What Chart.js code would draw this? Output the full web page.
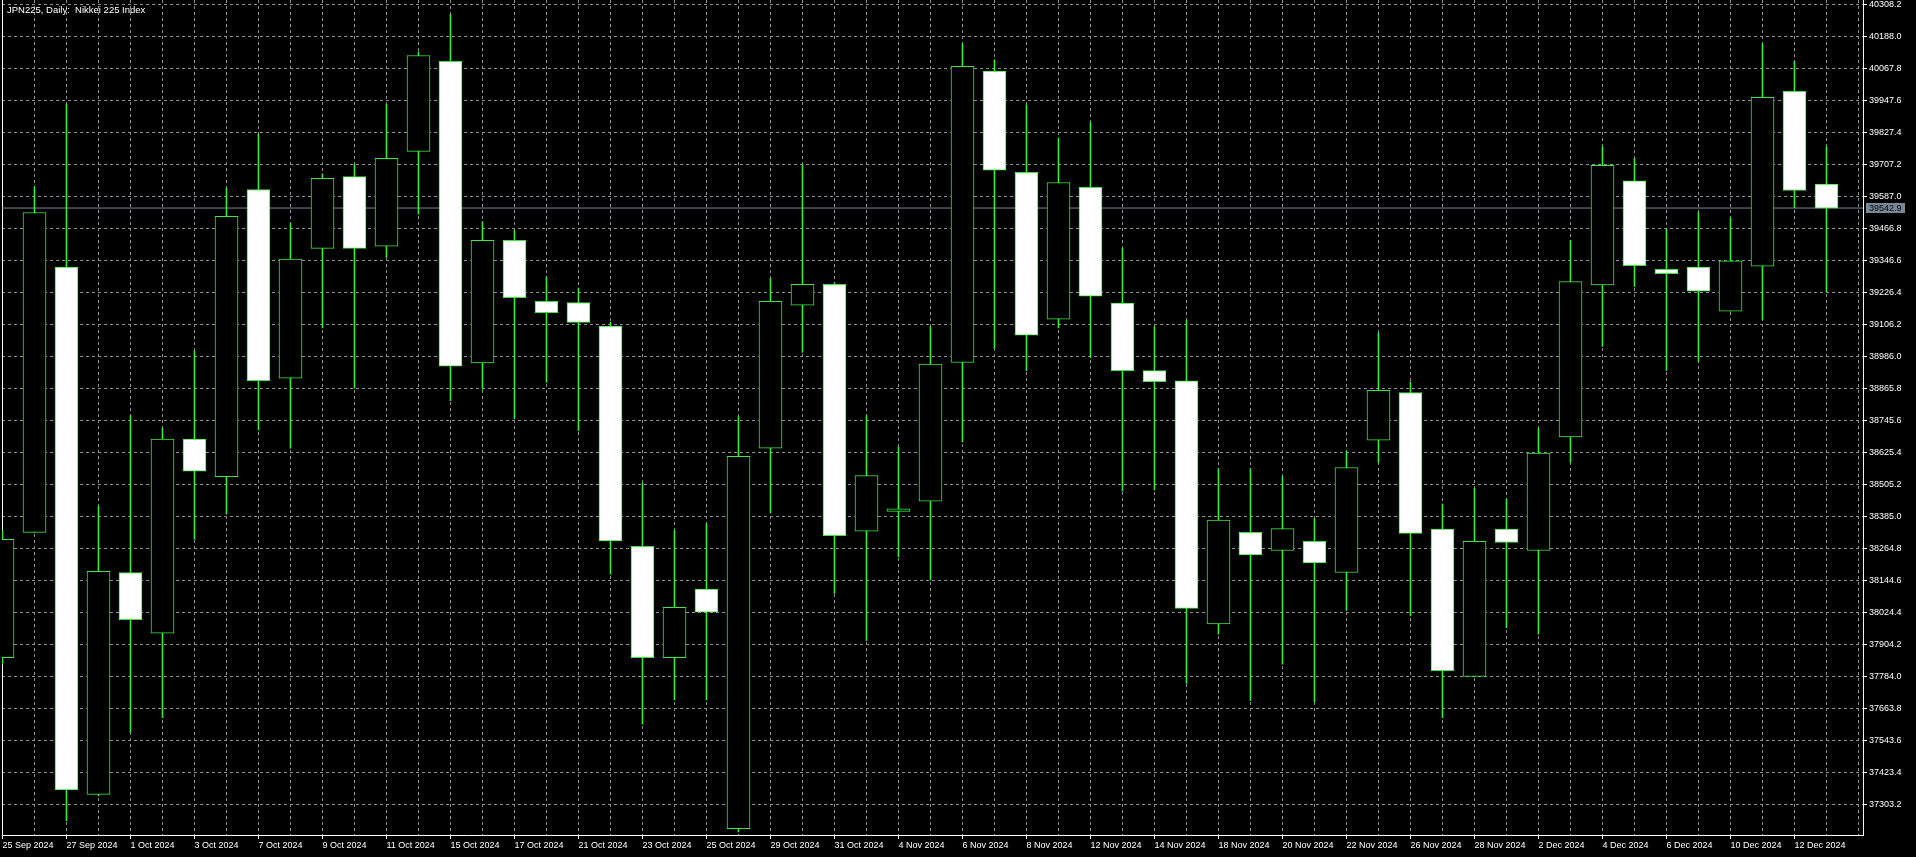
<!DOCTYPE html>
<html lang="en">
<head>
<meta charset="UTF-8">
<title>JPN225, Daily: Nikkei 225 Index</title>
<script src="https://cdn.jsdelivr.net/npm/chart.js"></script>
<style>
  html, body { margin: 0; padding: 0; background: #000; overflow: hidden; }
  #wrap { width: 1916px; height: 857px; }
  canvas { display: block; background: #000; }
</style>
</head>
<body>
<div id="wrap"><canvas id="chart" width="1916" height="857"></canvas></div>
<script>
const symbolTitle = 'JPN225, Daily:  Nikkei 225 Index';

// one entry per daily bar
const days = [
  '25 Sep 2024', '26 Sep 2024', '27 Sep 2024', '30 Sep 2024',
  '1 Oct 2024', '2 Oct 2024', '3 Oct 2024', '4 Oct 2024', '7 Oct 2024', '8 Oct 2024',
  '9 Oct 2024', '10 Oct 2024', '11 Oct 2024', '14 Oct 2024', '15 Oct 2024', '16 Oct 2024',
  '17 Oct 2024', '18 Oct 2024', '21 Oct 2024', '22 Oct 2024', '23 Oct 2024', '24 Oct 2024',
  '25 Oct 2024', '28 Oct 2024', '29 Oct 2024', '30 Oct 2024', '31 Oct 2024',
  '1 Nov 2024', '4 Nov 2024', '5 Nov 2024', '6 Nov 2024', '7 Nov 2024', '8 Nov 2024',
  '11 Nov 2024', '12 Nov 2024', '13 Nov 2024', '14 Nov 2024', '15 Nov 2024', '18 Nov 2024',
  '19 Nov 2024', '20 Nov 2024', '21 Nov 2024', '22 Nov 2024', '25 Nov 2024', '26 Nov 2024',
  '27 Nov 2024', '28 Nov 2024', '29 Nov 2024',
  '2 Dec 2024', '3 Dec 2024', '4 Dec 2024', '5 Dec 2024', '6 Dec 2024', '9 Dec 2024',
  '10 Dec 2024', '11 Dec 2024', '12 Dec 2024', '13 Dec 2024'
];

const open = [
  37853.9, 38324.8, 39320.9, 37340.7, 38173.8, 37946.4, 38674.9, 38534.1, 39612.7, 38904.3,
  39391.3, 39661.0, 39399.4, 39755.6, 40093.7, 38960.7, 39421.5, 39192.1, 39188.1, 39099.5,
  38272.5, 37853.9, 38111.5, 37211.9, 38640.7, 39178.0, 39256.5, 38328.8, 38403.3, 38441.5,
  38962.7, 40057.5, 39677.1, 39125.7, 39620.8, 39186.1, 38932.5, 38894.3, 37980.7, 38324.8,
  38256.4, 38290.6, 38173.8, 38670.9, 38850.0, 38336.8, 37783.4, 38336.8, 38256.4, 38683.0,
  39254.5, 39644.9, 39312.9, 39320.9, 39155.9, 39324.9, 39981.0, 39632.8
];
const high = [
  38330.0, 39622.8, 39932.7, 38423.4, 38763.5, 38715.2, 39007.0, 39616.7, 39822.0, 39485.9,
  39671.1, 39707.3, 39932.7, 40129.9, 40270.8, 39492.0, 39459.8, 39284.7, 39242.4, 39113.6,
  38509.9, 38332.8, 38357.0, 38759.5, 39278.7, 39707.3, 39262.6, 38763.5, 38644.7, 39097.5,
  40160.1, 40099.7, 39930.7, 39805.9, 39864.3, 39391.3, 39097.5, 39121.7, 38564.2, 38564.2,
  38534.1, 38377.1, 38630.7, 39073.4, 38890.3, 38431.4, 38489.8, 38449.5, 38715.2, 39421.5,
  39773.7, 39729.4, 39465.8, 39526.2, 39506.1, 40160.1, 40093.7, 39773.7
];
const low = [
  37830.0, 38324.8, 37242.1, 37335.0, 37574.2, 37628.5, 38298.6, 38393.2, 38709.1, 38640.7,
  39093.5, 38866.1, 39357.1, 39520.1, 38819.8, 38862.1, 38751.4, 38888.2, 38707.1, 38167.8,
  37604.3, 37694.9, 37694.9, 37199.8, 38397.2, 39000.9, 38095.4, 37918.3, 38232.2, 38145.7,
  38664.9, 39017.0, 38932.5, 39093.5, 38980.8, 38479.7, 38483.8, 37757.3, 37942.4, 37692.9,
  37829.7, 37688.9, 38031.0, 38588.4, 38010.8, 37628.5, 37783.4, 37966.6, 37942.4, 38588.4,
  39023.1, 39248.5, 38932.5, 38966.7, 39155.9, 39123.7, 39544.3, 39228.3
];
const close = [
  38298.6, 39526.2, 37356.8, 38177.9, 37996.8, 38674.9, 38554.2, 39512.1, 38894.3, 39351.1,
  39655.0, 39391.3, 39729.4, 40115.8, 38948.6, 39421.5, 39206.2, 39149.9, 39113.6, 38292.6,
  37853.9, 38043.0, 38024.9, 38610.5, 39192.1, 39256.5, 38312.7, 38538.1, 38413.3, 38956.7,
  40075.6, 39685.1, 39065.3, 39638.9, 39212.2, 38932.5, 38890.3, 38039.0, 38371.1, 38240.3,
  38338.9, 38210.1, 38568.3, 38858.1, 38320.7, 37805.6, 38290.6, 38286.5, 38622.6, 39266.6,
  39703.3, 39326.9, 39296.8, 39230.4, 39345.1, 39958.8, 39608.7, 39542.9
];

// price scale labels on the right
const yTicks = [
  40308.2, 40188.0, 40067.8, 39947.6, 39827.4, 39707.2, 39587.0, 39466.8, 39346.6,
  39226.4, 39106.2, 38986.0, 38865.8, 38745.6, 38625.4, 38505.2, 38385.0, 38264.8,
  38144.6, 38024.4, 37904.2, 37784.0, 37663.8, 37543.6, 37423.4, 37303.2
];

// visible window
const X_MIN = -0.015625;
const X_MAX = 58.140625;
const Y_MIN = 37187.9;
const Y_MAX = 40324.4;

const GREEN = '#3ee63e';
const GRID = '#8e8e96';
const BID = '#778899';

const last = close[close.length - 1];
const wicks = days.map((d, i) => ({ x: i, y: [low[i], high[i]] }));
const bodies = days.map((d, i) => ({ x: i, y: [open[i], close[i]] }));

// caption top-left and the bid price box on the axis
const chartLabels = {
  id: 'chartLabels',
  afterDraw(chart) {
    const { ctx, chartArea, scales } = chart;
    ctx.save();
    ctx.font = '9.5px "Liberation Sans"';
    ctx.fillStyle = '#fff';
    ctx.textAlign = 'left';
    ctx.textBaseline = 'alphabetic';
    ctx.fillText(symbolTitle, chartArea.left + 5, 13);

    const y = Math.round(scales.y.getPixelForValue(last));
    ctx.fillStyle = BID;
    ctx.fillRect(chartArea.right + 3, y - 5, 39, 10);
    ctx.fillStyle = '#000';
    ctx.font = '9px "Liberation Sans"';
    ctx.textBaseline = 'middle';
    ctx.fillText(last.toFixed(1), chartArea.right + 6, y + 0.5);
    ctx.restore();
  }
};

Chart.defaults.font.family = '"Liberation Sans", Arial, sans-serif';
Chart.defaults.font.size = 9;
Chart.defaults.color = '#fff';

new Chart(document.getElementById('chart'), {
  type: 'bar',
  data: {
    datasets: [
      {
        type: 'line',
        data: [{ x: X_MIN, y: last }, { x: X_MAX, y: last }],
        borderColor: BID,
        borderWidth: 1,
        pointRadius: 0,
        order: 3
      },
      {
        data: wicks,
        backgroundColor: GREEN,
        borderWidth: 0,
        barThickness: 1,
        maxBarThickness: 1,
        grouped: false,
        order: 2
      },
      {
        data: bodies,
        backgroundColor: bodies.map(b => (b.y[1] < b.y[0] ? '#fff' : '#000')),
        borderColor: GREEN,
        borderWidth: 1,
        borderSkipped: false,
        barThickness: 23,
        maxBarThickness: 23,
        grouped: false,
        order: 1
      }
    ]
  },
  options: {
    responsive: false,
    animation: false,
    events: [],
    layout: { padding: 0 },
    plugins: {
      legend: { display: false },
      tooltip: { enabled: false },
      title: { display: false }
    },
    scales: {
      x: {
        type: 'linear',
        min: X_MIN,
        max: X_MAX,
        offset: false,
        afterBuildTicks: s => {
          s.ticks = Array.from({ length: days.length + 1 }, (_, i) => ({ value: i }));
        },
        afterFit: s => {
          s.height = 22;
          s.paddingLeft = 0;
          s.paddingRight = 0;
        },
        ticks: {
          autoSkip: false,
          maxRotation: 0,
          minRotation: 0,
          align: 'start',
          padding: 1,
          callback: v => (v % 2 === 0 && v < days.length ? days[v] : '')
        },
        grid: {
          offset: false,
          color: GRID,
          tickLength: 4,
          tickColor: c => (c.index % 2 === 0 && c.index < days.length ? '#fff' : 'rgba(0,0,0,0)'),
          tickBorderDash: []
        },
        // in v4 the dash here applies to the grid lines
        border: { display: true, color: '#fff', width: 1, dash: [3, 3] }
      },
      y: {
        position: 'right',
        min: Y_MIN,
        max: Y_MAX,
        afterBuildTicks: s => {
          s.ticks = yTicks.map(v => ({ value: v }));
        },
        afterFit: s => {
          s.width = 53;
          s.paddingTop = 0;
          s.paddingBottom = 0;
        },
        ticks: {
          autoSkip: false,
          padding: 2,
          callback: v => Number(v).toFixed(1)
        },
        grid: {
          color: GRID,
          tickLength: 4,
          tickColor: '#fff',
          tickBorderDash: []
        },
        border: { display: true, color: '#fff', width: 1, dash: [3, 3] }
      },
      yl: {
        position: 'left',
        ticks: { display: false },
        grid: { display: false, drawTicks: false },
        afterFit: s => {
          s.width = 2;
          s.paddingTop = 0;
          s.paddingBottom = 0;
        },
        border: { display: true, color: '#fff', width: 1 }
      }
    }
  },
  plugins: [chartLabels]
});
</script>
</body>
</html>
